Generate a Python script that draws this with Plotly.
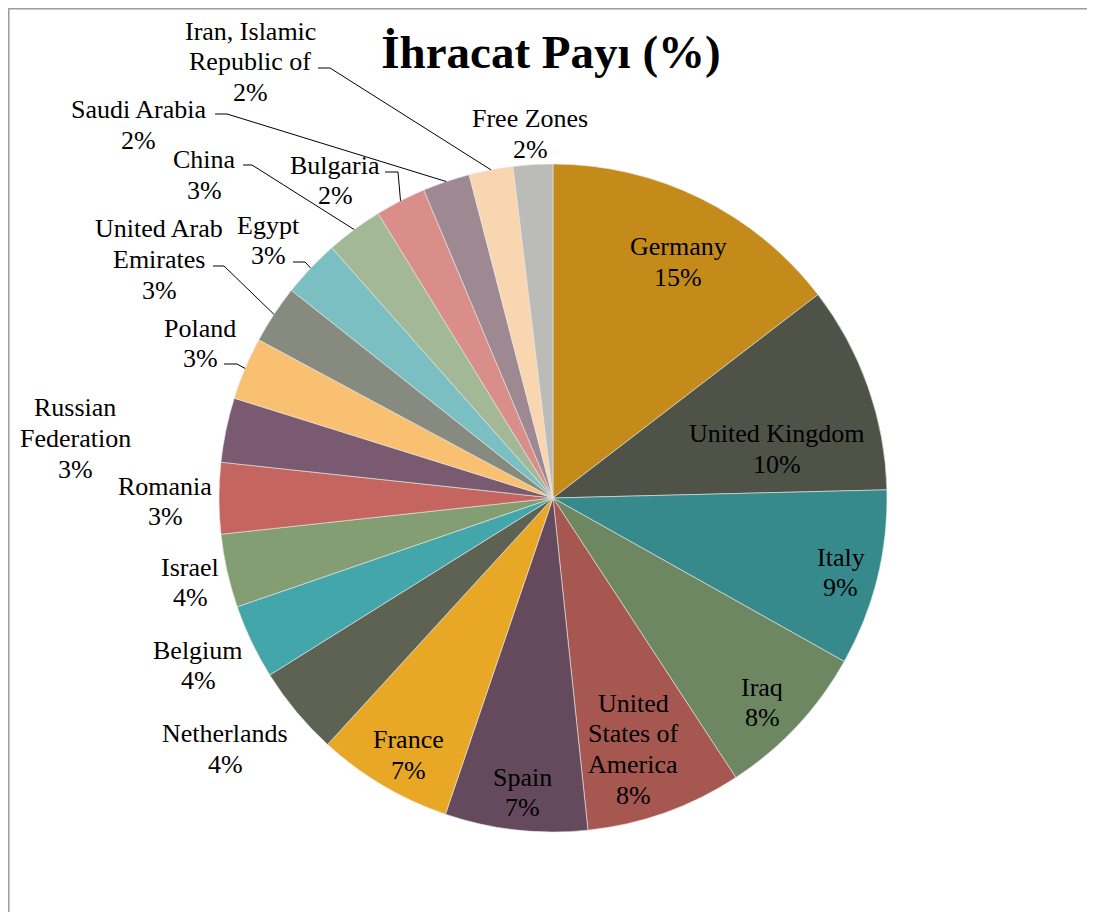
"""Export share pie chart (Excel-style labels with leader lines)."""

import math

import plotly.graph_objects as go

W, H = 1095, 912
PAGE_OFFSET = 8  # the html body margin moves the figure 8px right and down

COUNTRIES = [
    "Germany", "United Kingdom", "Italy", "Iraq", "United States of America",
    "Spain", "France", "Netherlands", "Belgium", "Israel", "Romania",
    "Russian Federation", "Poland", "United Arab Emirates", "Egypt", "China",
    "Bulgaria", "Saudi Arabia", "Iran, Islamic Republic of", "Free Zones",
]
SHARES = [
    14.58, 10.03, 8.53, 7.64, 7.55,
    6.89, 6.57, 4.32, 3.61, 3.55, 3.44,
    3.12, 3.02, 2.83, 2.80, 2.75,
    2.45, 2.28, 2.13, 1.91,
]
COLORS = [
    "#C48B1B", "#4F5246", "#368A8C", "#6E8763", "#A65750",
    "#654A5E", "#E8A724", "#5E6252", "#42A6AB", "#839E73", "#C4665F",
    "#7A5A70", "#F8C070", "#878B7F", "#7BBFC3", "#A3B897",
    "#D98E89", "#9E8892", "#FAD6B0", "#BBBCB8",
]

# ---- layout of the pie and its labels (page pixels) ----
CX, CY, R = 553, 498, 334
LINE_STEP = 30.8
FONT = "Liberation Serif, Times New Roman, serif"

WRAP = {
    "United States of America": ["United", "States of", "America"],
    "Russian Federation": ["Russian", "Federation"],
    "United Arab Emirates": ["United Arab", "Emirates"],
    "Iran, Islamic Republic of": ["Iran, Islamic", "Republic of"],
}
# centre of the first text line of each label
LABEL_XY = {
    "Germany": (678, 246.5),
    "United Kingdom": (777, 434),
    "Italy": (841, 557),
    "Iraq": (762, 687),
    "United States of America": (633, 703),
    "Spain": (522, 777),
    "France": (408, 739.5),
    "Netherlands": (225, 733.5),
    "Belgium": (198, 650),
    "Israel": (190, 567),
    "Romania": (165, 486),
    "Russian Federation": (75, 407.5),
    "Poland": (200, 328),
    "United Arab Emirates": (159, 228.5),
    "Egypt": (268, 225),
    "China": (204, 159.5),
    "Bulgaria": (335, 165),
    "Saudi Arabia": (138, 110),
    "Iran, Islamic Republic of": (250, 31),
    "Free Zones": (530, 118.5),
}
# leader line: start x, y at the label, knee x; the far end sits on the slice edge
LEADERS = {
    "Iran, Islamic Republic of": (318, 68, 330),
    "Saudi Arabia": (215, 114, 227),
    "Bulgaria": (385, 172, 398),
    "China": (243, 165, 252),
    "Egypt": (293, 262, 305),
    "United Arab Emirates": (213, 266, 224),
    "Poland": (224, 364, 237),
}


def px(x):
    return (x - PAGE_OFFSET) / W


def py(y):
    return 1 - (y - PAGE_OFFSET) / H


total = sum(SHARES)
pct_text = [f"{int(v / total * 100 + 0.5)}%" for v in SHARES]

fig = go.Figure(
    go.Pie(
        labels=COUNTRIES,
        values=SHARES,
        sort=False,
        direction="clockwise",
        rotation=0,
        textinfo="none",
        marker=dict(colors=COLORS, line=dict(color="#E8E8E8", width=0.6)),
        domain=dict(x=[px(CX - R), px(CX + R)], y=[py(CY + R), py(CY - R)]),
        showlegend=False,
        hoverinfo="label+percent",
    )
)

annotations = []
for name, pct in zip(COUNTRIES, pct_text):
    lines = WRAP.get(name, [name]) + [pct]
    x0, y0 = LABEL_XY[name]
    for i, line in enumerate(lines):
        annotations.append(
            dict(
                text=line,
                x=px(x0),
                y=py(y0 + i * LINE_STEP),
                xref="paper",
                yref="paper",
                xanchor="center",
                yanchor="middle",
                showarrow=False,
                font=dict(family=FONT, size=26, color="#000000"),
            )
        )

# slice mid-angles (clockwise from 12 o'clock) for the leader-line ends
shapes = []
acc = 0.0
for name, v in zip(COUNTRIES, SHARES):
    mid = (acc + v / 2) / total * 2 * math.pi
    acc += v
    if name not in LEADERS:
        continue
    sx, sy, kx = LEADERS[name]
    ex = CX + R * math.sin(mid)
    ey = CY - R * math.cos(mid)
    path = f"M {px(sx)} {py(sy)} L {px(kx)} {py(sy)} L {px(ex)} {py(ey)}"
    shapes.append(
        dict(type="path", path=path, xref="paper", yref="paper",
             line=dict(color="#000000", width=1))
    )

# chart-area frame (only the top and left edges fall inside the picture)
shapes.append(
    dict(type="rect", xref="paper", yref="paper",
         x0=0.8 / W, x1=1.2, y0=-0.2, y1=1 - 0.8 / H,
         line=dict(color="#9C9C9C", width=1.5), fillcolor="rgba(0,0,0,0)", layer="below")
)

fig.update_layout(
    width=W,
    height=H,
    margin=dict(l=0, r=0, t=0, b=0),
    paper_bgcolor="#FFFFFF",
    plot_bgcolor="#FFFFFF",
    title=dict(
        text="<b>İhracat Payı (%)</b>",
        x=px(551),
        xref="paper",
        xanchor="center",
        y=py(52),
        yref="container",
        yanchor="middle",
        font=dict(family=FONT, size=47, color="#000000"),
    ),
    annotations=annotations,
    shapes=shapes,
)

fig.write_html("out.html")
